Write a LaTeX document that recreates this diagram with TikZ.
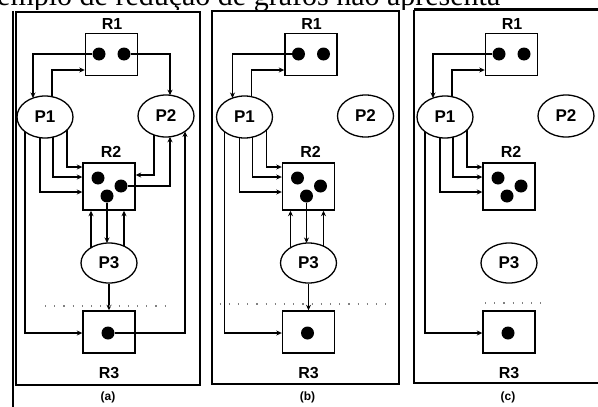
\documentclass[tikz,border=0pt]{standalone}
\usepackage{fontspec}
\setmainfont{Liberation Serif}
\newfontfamily\labfont{Liberation Sans}
\usetikzlibrary{arrows.meta,calc,shapes.geometric}
\newcommand\panelnodes[2]{%
  \node[rbox] (#1R1) at (111.5,54.5) {};
  \node[lbl] (#1R1l) at (112,24) {R1};
  \node[tok] (#1R1a) at (99,54) {};
  \node[tok] (#1R1b) at (124,54) {};
  \node[proc] (#1P1) at (45,117) {P1};
  \node[proc] (#1P2) at (166,116) {P2};
  \node[rbox,minimum height=47pt] (#1R2) at (109,186.5) {};
  \node[lbl] (#1R2l) at (111,152) {R2};
  \node[tok] (#1R2a) at (98,178) {};
  \node[tok] (#1R2b) at (121,186) {};
  \node[tok] (#1R2c) at (107,196) {};
  \node[proc,minimum height=40pt] (#1P3) at (109,263) {P3};
  \node[rbox] (#1R3) at (109,332) {};
  \node[tok] (#1R3a) at (108,333) {};
  \node[lbl] (#1R3l) at (109,373) {R3};
  \node[capt] (#1cap) at (108,397) {#2};
}
\newcommand\pone[1]{%
  \draw[arr] (#1R1a) -| ($(#1P1)+(-12,-19)$);
  \draw[arr] ($(#1P1)+(7,-20.3)$) |- (#1R1.west |- 0,70);
  \draw[arr] ($(#1P1)+(22,13)$) |- (#1R2.west |- 0,167);
  \draw[arr] ($(#1P1)+(8,20.1)$) |- (#1R2.west |- 0,177);
  \draw[arr] ($(#1P1)+(-5,20.7)$) |- (#1R2.west |- 0,192);
  \draw[arr] ($(#1P1)+(-20,14.7)$) |- (#1R3.west |- #1R3a);
}
\newcommand\pthree[1]{%
  \draw[arr] (#1R2c) -- ($(#1P3)+(-2,-20)$);
  \draw[arr] ($(#1P3)+(-18,-15.3)$) -- ($(#1R2.south)+(-18,0)$);
  \draw[arr] ($(#1P3)+(15,-16.9)$) -- ($(#1R2.south)+(15,0)$);
  \draw[arr] (#1P3.south) -- (#1R3.north);
}
\begin{document}
\begin{tikzpicture}[x=1pt,y=-1pt,
  conn/.style={line width=1.4pt},
  arr/.style={conn,-{Stealth[length=5.5pt,width=5pt]}},
  rbox/.style={draw,line width=1.4pt,minimum width=52pt,minimum height=42pt,inner sep=0pt},
  proc/.style={draw,ellipse,line width=1.3pt,minimum width=56pt,minimum height=42pt,inner sep=0pt,font=\labfont\bfseries\fontsize{17}{17}\selectfont},
  tok/.style={circle,fill=black,minimum size=13pt,inner sep=0pt},
  lbl/.style={font=\labfont\bfseries\fontsize{16}{16}\selectfont,inner sep=0pt},
  capt/.style={font=\labfont\bfseries\fontsize{12}{12}\selectfont,inner sep=0pt},
  framel/.style={line width=1.6pt},
  dotl/.style={gray,line width=1.2pt,dash pattern=on 1.2pt off 8pt}]
\useasboundingbox (0,0) rectangle (598,407);
% header, cut off at the top
\begin{scope}
  \clip (0,0) rectangle (598,9.5);
  \node[anchor=base west,inner sep=0pt,font=\fontsize{30}{30}\selectfont] (hdr) at (-3,5.5) {emplo de redução de grafos não apresenta};
\end{scope}
% frames
\draw[framel] (13,11) -- (13,407);
\draw[framel] (16,12) rectangle (200,385);
\draw[framel] (212,11) rectangle (399,384);
\draw[framel] (414,10) -- (414,383) -- (600,383);
\draw[line width=2.5pt] (414,9.5) -- (600,9.5);
% panel (a)
\begin{scope}
  \panelnodes{a}{(a)}
  \pone{a}
  \pthree{a}
  \draw[arr] (aR1b) -| ($(aP2)+(4,-20.8)$);
  \draw[arr] ($(aP2)+(-12,19)$) |- (aR2.east |- 0,175);
  \draw[arr] (aR2b) -| ($(aP2)+(4,20.8)$);
  \draw[arr] (aR3a) -| ($(aP2)+(19,15.4)$);
  \draw[dotl] (45,306) -- (168,306);
\end{scope}
% panel (b)
\begin{scope}[xshift=199.5pt]
  \panelnodes{b}{(b)}
  \pone{b}
  \pthree{b}
  \draw[dotl] (20,304) -- (192,304);
\end{scope}
% panel (c)
\begin{scope}[xshift=400pt]
  \panelnodes{c}{(c)}
  \pone{c}
  \draw[dotl] (85,303) -- (148,303);
\end{scope}
\end{tikzpicture}
\end{document}
